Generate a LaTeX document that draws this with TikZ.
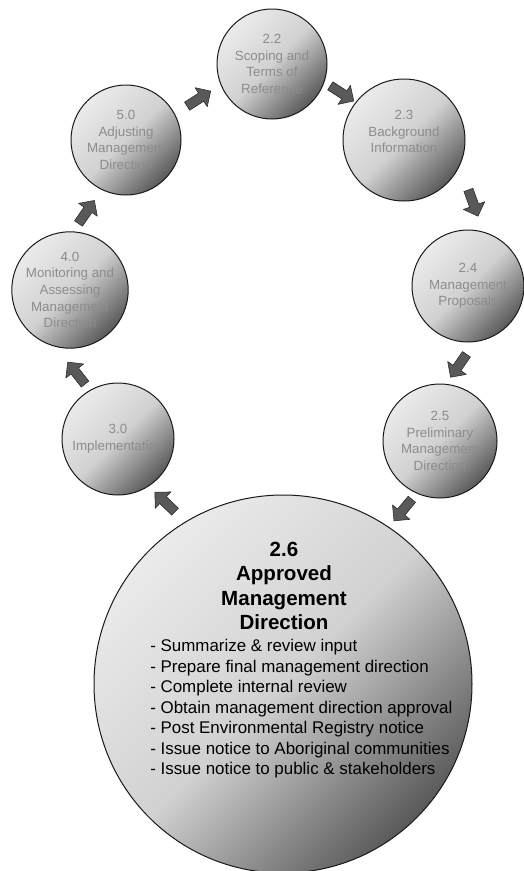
\documentclass[tikz,border=0pt]{standalone}
\usepackage{fontspec}
\setmainfont{Liberation Sans}
\usetikzlibrary{shapes.arrows}
\tikzset{
	stage/.style={circle, draw=black!90, line width=0.75pt, top color=black!8, bottom color=black!65, middle color=black!18, shading angle=45, text=black!45, align=center, inner sep=0pt, font=\fontsize{10}{12.5}\selectfont},
	flow/.style={single arrow, draw=black!85, fill=black!65, line width=0.4pt, minimum height=21pt, single arrow head extend=4.9pt, inner xsep=0pt, inner ysep=3.4pt, sloped, allow upside down},
	title/.style={align=center, font=\fontsize{15.4}{18.4}\selectfont\bfseries},
	tasks/.style={align=left, anchor=west, inner sep=0pt, font=\fontsize{12.7}{15.4}\selectfont}
}
\begin{document}
\begin{tikzpicture}[x=0.75pt, y=-0.75pt, line join=round]
		\useasboundingbox (0,0) rectangle (524,871);
		% cycle of stages
		\node[stage, minimum size=82.5pt] (n22) at (272,64) {2.2\\Scoping and\\Terms of\\Reference};
		\node[stage, minimum size=91.5pt] (n23) at (404,140) {2.3\\Background\\Information\\~};
		\node[stage, minimum size=84pt] (n24) at (468,286) {2.4\\Management\\Proposals};
		\node[stage, minimum size=85.5pt] (n25) at (440,441) {2.5\\Preliminary\\Management\\Direction};
		\node[stage, minimum size=283.5pt] (n26) at (283,684) {};
		\node[stage, minimum size=84pt] (n30) at (118,439) {3.0\\Implementation};
		\node[stage, minimum size=82.5pt] (n40) at (70,290) {4.0\\Monitoring and\\Assessing\\Management\\Direction};
		\node[stage, minimum size=82.5pt] (n50) at (126,140) {5.0\\Adjusting\\Management\\Direction};
		% text of the big stage
		\node[title] (t26) at (284,586) {2.6\\Approved\\Management\\Direction};
		\node[tasks] (l26) at (150,709) {- Summarize \& review input\\- Prepare final management direction\\- Complete internal review\\- Obtain management direction approval\\- Post Environmental Registry notice\\- Issue notice to Aboriginal communities\\- Issue notice to public \& stakeholders};
		% block arrows
		\foreach \a/\b/\p in {n50.28/n22.202/0.48, n22.-19/n23.142/0.5, n23.-25/n24.74/0.53, n24.-83/n25.84/0.52, n25.-114/n26.56/0.44, n26.121/n30.-57/0.51, n30.120/n40.-104/0.35, n40.87/n50.-116/0.42}
			\path (\a) -- node[flow, pos=\p]{} (\b);
\end{tikzpicture}
\end{document}
